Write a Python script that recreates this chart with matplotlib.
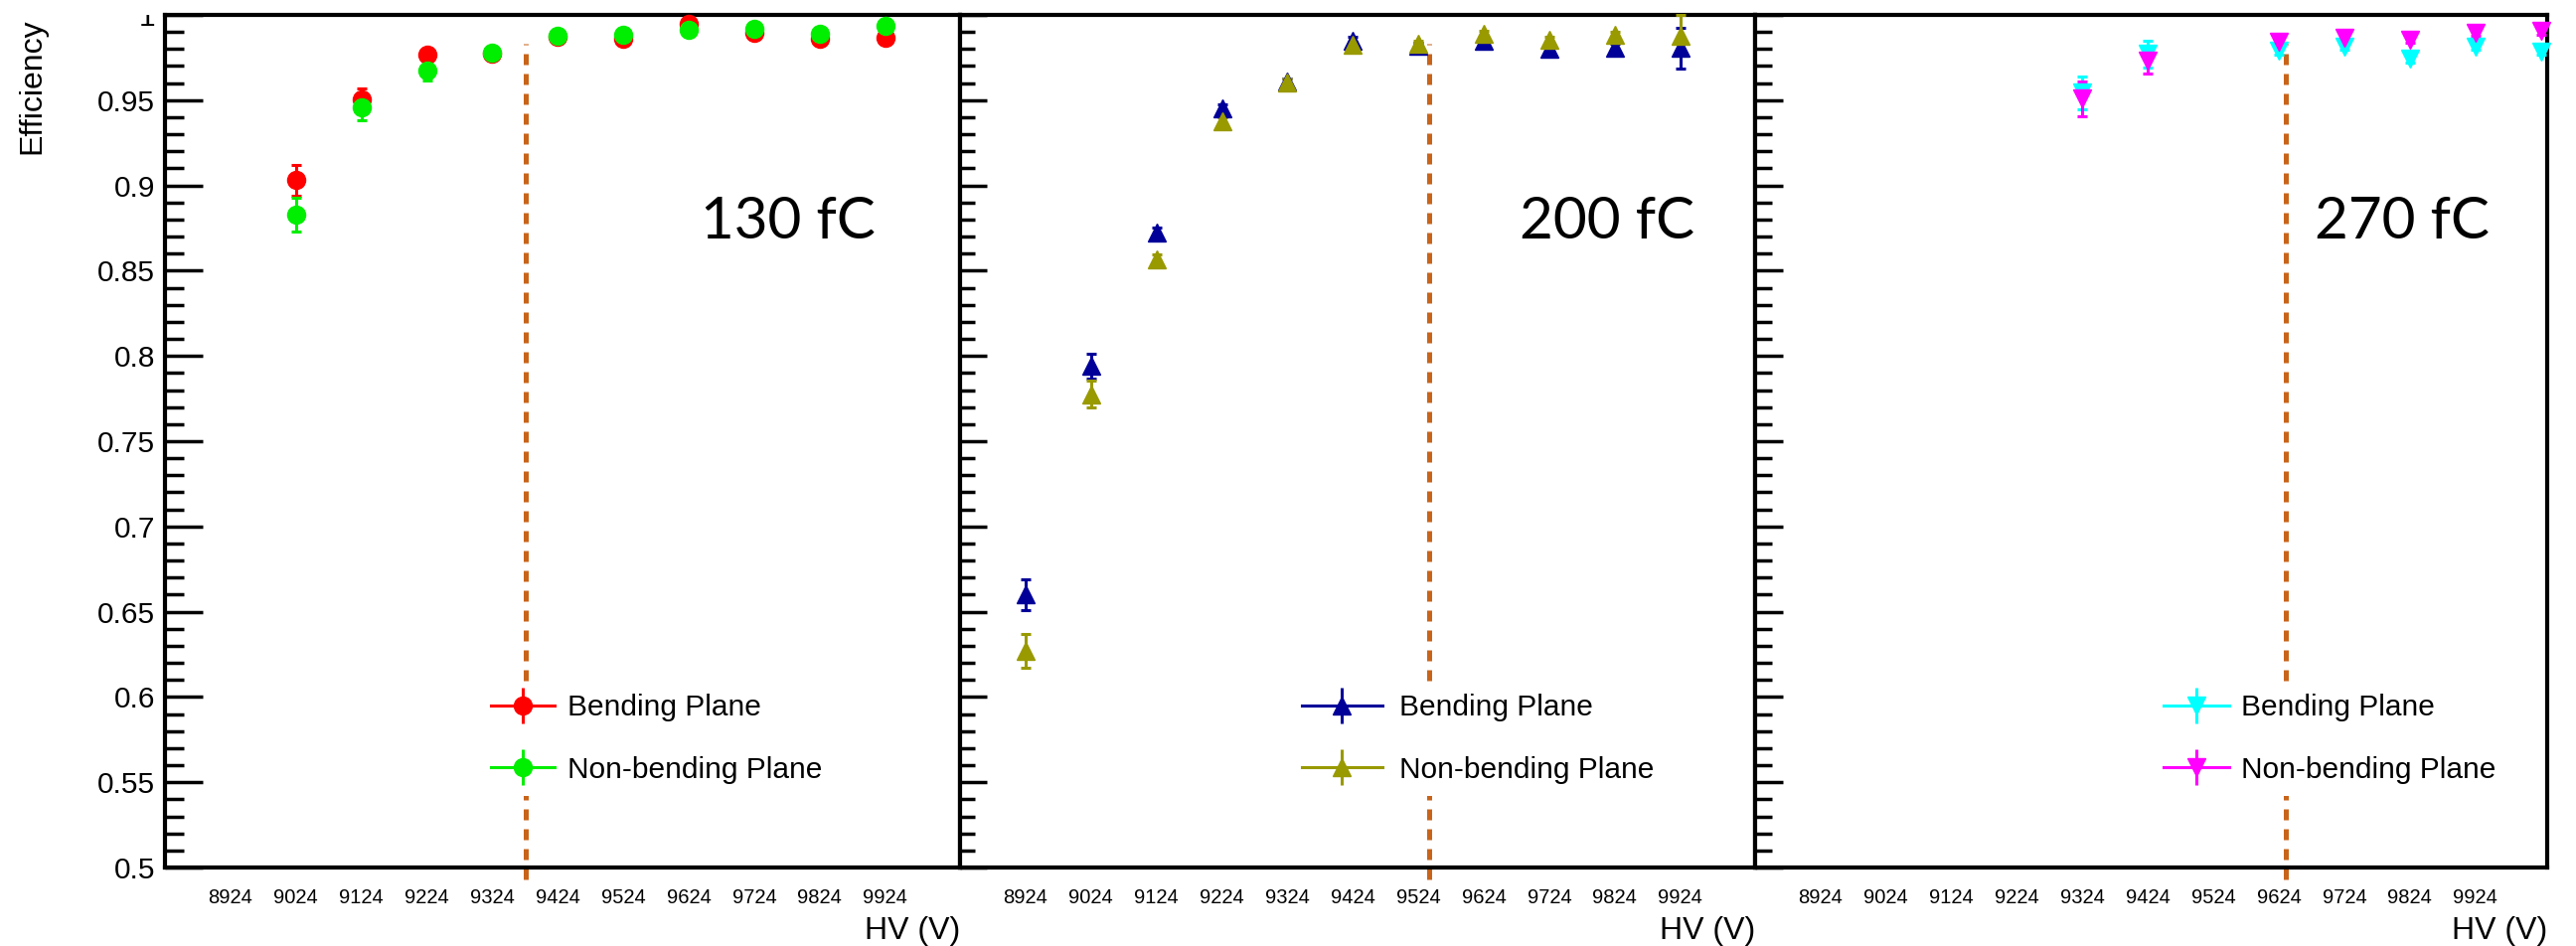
import matplotlib
matplotlib.use('Agg')
import matplotlib.pyplot as plt
from matplotlib.lines import Line2D
from matplotlib.ticker import MultipleLocator, FuncFormatter
from matplotlib.transforms import Bbox, TransformedBbox

plt.rcParams['font.family'] = ['Liberation Sans', 'DejaVu Sans']

# x tick labels (HV in volts)
hv_labels = [8924, 9024, 9124, 9224, 9324, 9424, 9524, 9624, 9724, 9824, 9924]

# 130 fC threshold
hv_130 = [9024, 9124, 9224, 9324, 9424, 9524, 9624, 9724, 9824, 9924]
bend_130 = [0.903, 0.9504, 0.9768, 0.9775, 0.9869, 0.9860, 0.9945, 0.9896, 0.9863, 0.9864]
bend_130_err = [0.009, 0.0065, 0.003, 0.002, 0.002, 0.002, 0.002, 0.002, 0.002, 0.002]
nonbend_130 = [0.883, 0.9457, 0.9675, 0.9777, 0.9880, 0.9882, 0.9912, 0.9916, 0.9892, 0.9934]
nonbend_130_err = [0.0098, 0.0077, 0.0058, 0.002, 0.002, 0.002, 0.002, 0.002, 0.002, 0.002]

# 200 fC threshold
hv_200 = [8924, 9024, 9124, 9224, 9324, 9424, 9524, 9624, 9724, 9824, 9924]
bend_200 = [0.660, 0.794, 0.8725, 0.9453, 0.9607, 0.9850, 0.9817, 0.9846, 0.9803, 0.9809, 0.9807]
bend_200_err = [0.009, 0.007, 0.003, 0.002, 0.002, 0.002, 0.002, 0.002, 0.002, 0.002, 0.012]
nonbend_200 = [0.6273, 0.7776, 0.8568, 0.9378, 0.9605, 0.9825, 0.9830, 0.9889, 0.9852, 0.9883, 0.9879]
nonbend_200_err = [0.0099, 0.008, 0.003, 0.002, 0.002, 0.002, 0.002, 0.002, 0.002, 0.002, 0.012]

# 270 fC threshold
hv_270 = [9324, 9424, 9624, 9724, 9824, 9924, 10024]
bend_270 = [0.9544, 0.9770, 0.9788, 0.9814, 0.9741, 0.9814, 0.9785]
bend_270_err = [0.0095, 0.0076, 0.002, 0.002, 0.002, 0.002, 0.002]
nonbend_270 = [0.9510, 0.9733, 0.9843, 0.9866, 0.9854, 0.9896, 0.9906]
nonbend_270_err = [0.0102, 0.0078, 0.002, 0.002, 0.002, 0.002, 0.002]

# working point (dashed line) per threshold
working_hv = [9375, 9540, 9635]
wp_low, wp_high = 0.493, 0.983

thresholds = ['130 fC', '200 fC', '270 fC']
labels = ['Bending Plane', 'Non-bending Plane']

W, H = 2592, 952
fig = plt.figure(figsize=(W / 100, H / 100), dpi=100)

panels = [
    (hv_130, bend_130, bend_130_err, nonbend_130, nonbend_130_err, '#ff0000', '#00ee00', 'o', 13),
    (hv_200, bend_200, bend_200_err, nonbend_200, nonbend_200_err, '#000099', '#999900', '^', 13),
    (hv_270, bend_270, bend_270_err, nonbend_270, nonbend_270_err, '#00ffff', '#ff00ff', 'v', 13),
]
lefts = [166, 966, 1766]
widths = [800, 800, 797]
px_per_volt = 0.6589
text_x = [0.674, 0.704, 0.706]
leg_x = [0.395, 0.415, 0.5006]
leg_hl = [2.14, 2.7, 2.2]
leg_pad = [0.43, 0.6, 0.43]
maj_len = [27.4, 19.4, 20.5]
min_len = [13.7, 11.0, 12.0]

axes = []
for i, (hv, b, be, n, ne, cb, cn, mk, ms) in enumerate(panels):
    ax = fig.add_axes([lefts[i] / W, 79 / H, widths[i] / W, 858 / H])
    axes.append(ax)
    ax.set_xlim(8824, 8824 + widths[i] / px_per_volt)
    ax.set_ylim(0.5, 1.0)

    ax.plot([working_hv[i], working_hv[i]], [wp_low, wp_high], color='#c8641a', lw=3.6,
            ls=(0, (2.2, 1.8)), dash_capstyle='butt', clip_on=False, zorder=2)

    for vals, errs, c in [(b, be, cb), (n, ne, cn)]:
        ax.errorbar(hv, vals, yerr=errs, fmt=mk, color=c, ms=ms, mec=c,
                    elinewidth=2.2, capsize=3.6, capthick=2.2, clip_on=False, zorder=3)

    ax.text(text_x[i], 0.738, thresholds[i], transform=ax.transAxes, fontsize=42,
            family=['Lato', 'DejaVu Sans'], fontweight='normal', ha='left', va='baseline')

    handles = []
    for c in [cb, cn]:
        handles.append((Line2D([], [], color=c, lw=2.2),
                        Line2D([], [], color=c, ls='none', marker='|', ms=26, mew=2.2),
                        Line2D([], [], color=c, ls='none', marker=mk, ms=ms)))
    leg = ax.legend(handles, labels, loc='center left', bbox_to_anchor=(leg_x[i], 0.151),
                    fontsize=21.5, handlelength=leg_hl[i], handletextpad=leg_pad[i],
                    labelspacing=1.15, borderpad=0.4, borderaxespad=0, numpoints=1,
                    frameon=True, fancybox=False, framealpha=1)
    leg.get_frame().set_facecolor('white')
    leg.get_frame().set_edgecolor('none')

    ax.yaxis.set_major_locator(MultipleLocator(0.05))
    ax.yaxis.set_minor_locator(MultipleLocator(0.01))
    ax.yaxis.set_major_formatter(FuncFormatter(lambda v, p: '%g' % round(v, 2)))
    ax.tick_params(axis='y', which='major', direction='in', length=maj_len[i], width=2.5,
                   left=True, right=False, labelleft=(i == 0), labelsize=21.5, pad=7)
    ax.tick_params(axis='y', which='minor', direction='in', length=min_len[i], width=2.5,
                   left=True, right=False)

    ax.set_xticks(hv_labels)
    ax.set_xticklabels([str(h) for h in hv_labels])
    ax.tick_params(axis='x', which='both', length=0, labelsize=14.5, pad=15)

    for s in ax.spines.values():
        s.set_linewidth(3)

    ax.set_xlabel('HV (V)', fontsize=23)
    ax.xaxis.set_label_coords(1.0, -0.057)
    ax.xaxis.label.set_ha('right')
    ax.xaxis.label.set_va('top')

fig.text(32 / W, 1 - 18 / H, 'Efficiency', rotation=90, fontsize=23, ha='center', va='top')

# the top "1" label is cut by the frame, as in the original
ax = axes[0]
locs = ax.yaxis.get_majorticklocs()
ticks = ax.yaxis.get_major_ticks(len(locs))
clip = TransformedBbox(Bbox([[0, 0], [1, 1 - 15 / H]]), fig.transFigure)
for loc, t in zip(locs, ticks):
    if abs(loc - 1.0) < 1e-6:
        t.label1.set_clip_on(True)
        t.label1.set_clip_box(clip)

fig.savefig('out.png', dpi=100)
